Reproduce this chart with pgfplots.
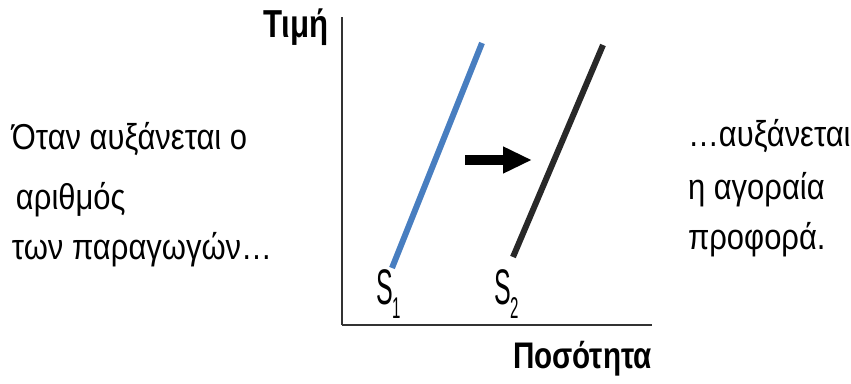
\documentclass[border=0pt]{standalone}
\usepackage{fontspec}
\usepackage{pgfplots}
\pgfplotsset{compat=1.18}
\usetikzlibrary{arrows.meta}
\setmainfont{Liberation Sans}
\newfontfamily\txtfont{Liberation Sans}[FakeStretch=0.86]
\newfontfamily\labfont{Liberation Sans}[FakeStretch=0.8]
\newfontfamily\sfont{Liberation Sans}[FakeStretch=0.5]
\definecolor{sblue}{RGB}{72,126,192}
\definecolor{sdark}{RGB}{40,40,40}
\begin{document}
\begin{tikzpicture}[x=1pt,y=1pt]
\path[use as bounding box] (0,0) rectangle (851,383);
\begin{axis}[at={(342,58)}, anchor=south west, scale only axis,
  width=310pt, height=308pt, xmin=0, xmax=310, ymin=0, ymax=308,
  axis lines=left, axis line style={-, line width=2.2pt, black!80},
  ticks=none, clip=false]
\addplot[sblue, line width=6pt] coordinates {(50,57) (140,282)};
\addplot[sdark, line width=6pt] coordinates {(171,68) (261,280)};
\addplot[black, line width=10pt, -{Triangle[length=29pt,width=25pt]}] coordinates {(123,165) (190,165)};
\end{axis}
\tikzset{every node/.style={inner sep=0pt, outer sep=0pt}}
% left text
\node[anchor=base west] at (12,233) {\txtfont\fontsize{36}{40}\selectfont Όταν αυξάνεται ο};
\node[anchor=base west] at (16,173) {\txtfont\fontsize{36}{40}\selectfont αριθμός};
\node[anchor=base west] at (12,123) {\txtfont\fontsize{36}{40}\selectfont των παραγωγών…};
% right text
\node[anchor=base west] at (688,236) {\txtfont\fontsize{36}{40}\selectfont …αυξάνεται};
\node[anchor=base west] at (688,183) {\txtfont\fontsize{36}{40}\selectfont η αγοραία};
\node[anchor=base west] at (688,133) {\txtfont\fontsize{36}{40}\selectfont προφορά.};
% axis labels
\node[anchor=base west] at (263,345) {\labfont\bfseries\fontsize{39}{44}\selectfont Τιμή};
\node[anchor=base west] at (513,15) {\labfont\bfseries\fontsize{37}{42}\selectfont Ποσότητα};
% curve labels
\node[anchor=base west] at (376,78) {\sfont\fontsize{50}{54}\selectfont S};
\node[anchor=base west] at (392,65) {\sfont\fontsize{30}{34}\selectfont 1};
\node[anchor=base west] at (494,78) {\sfont\fontsize{50}{54}\selectfont S};
\node[anchor=base west] at (510,65) {\sfont\fontsize{30}{34}\selectfont 2};
\end{tikzpicture}
\end{document}
